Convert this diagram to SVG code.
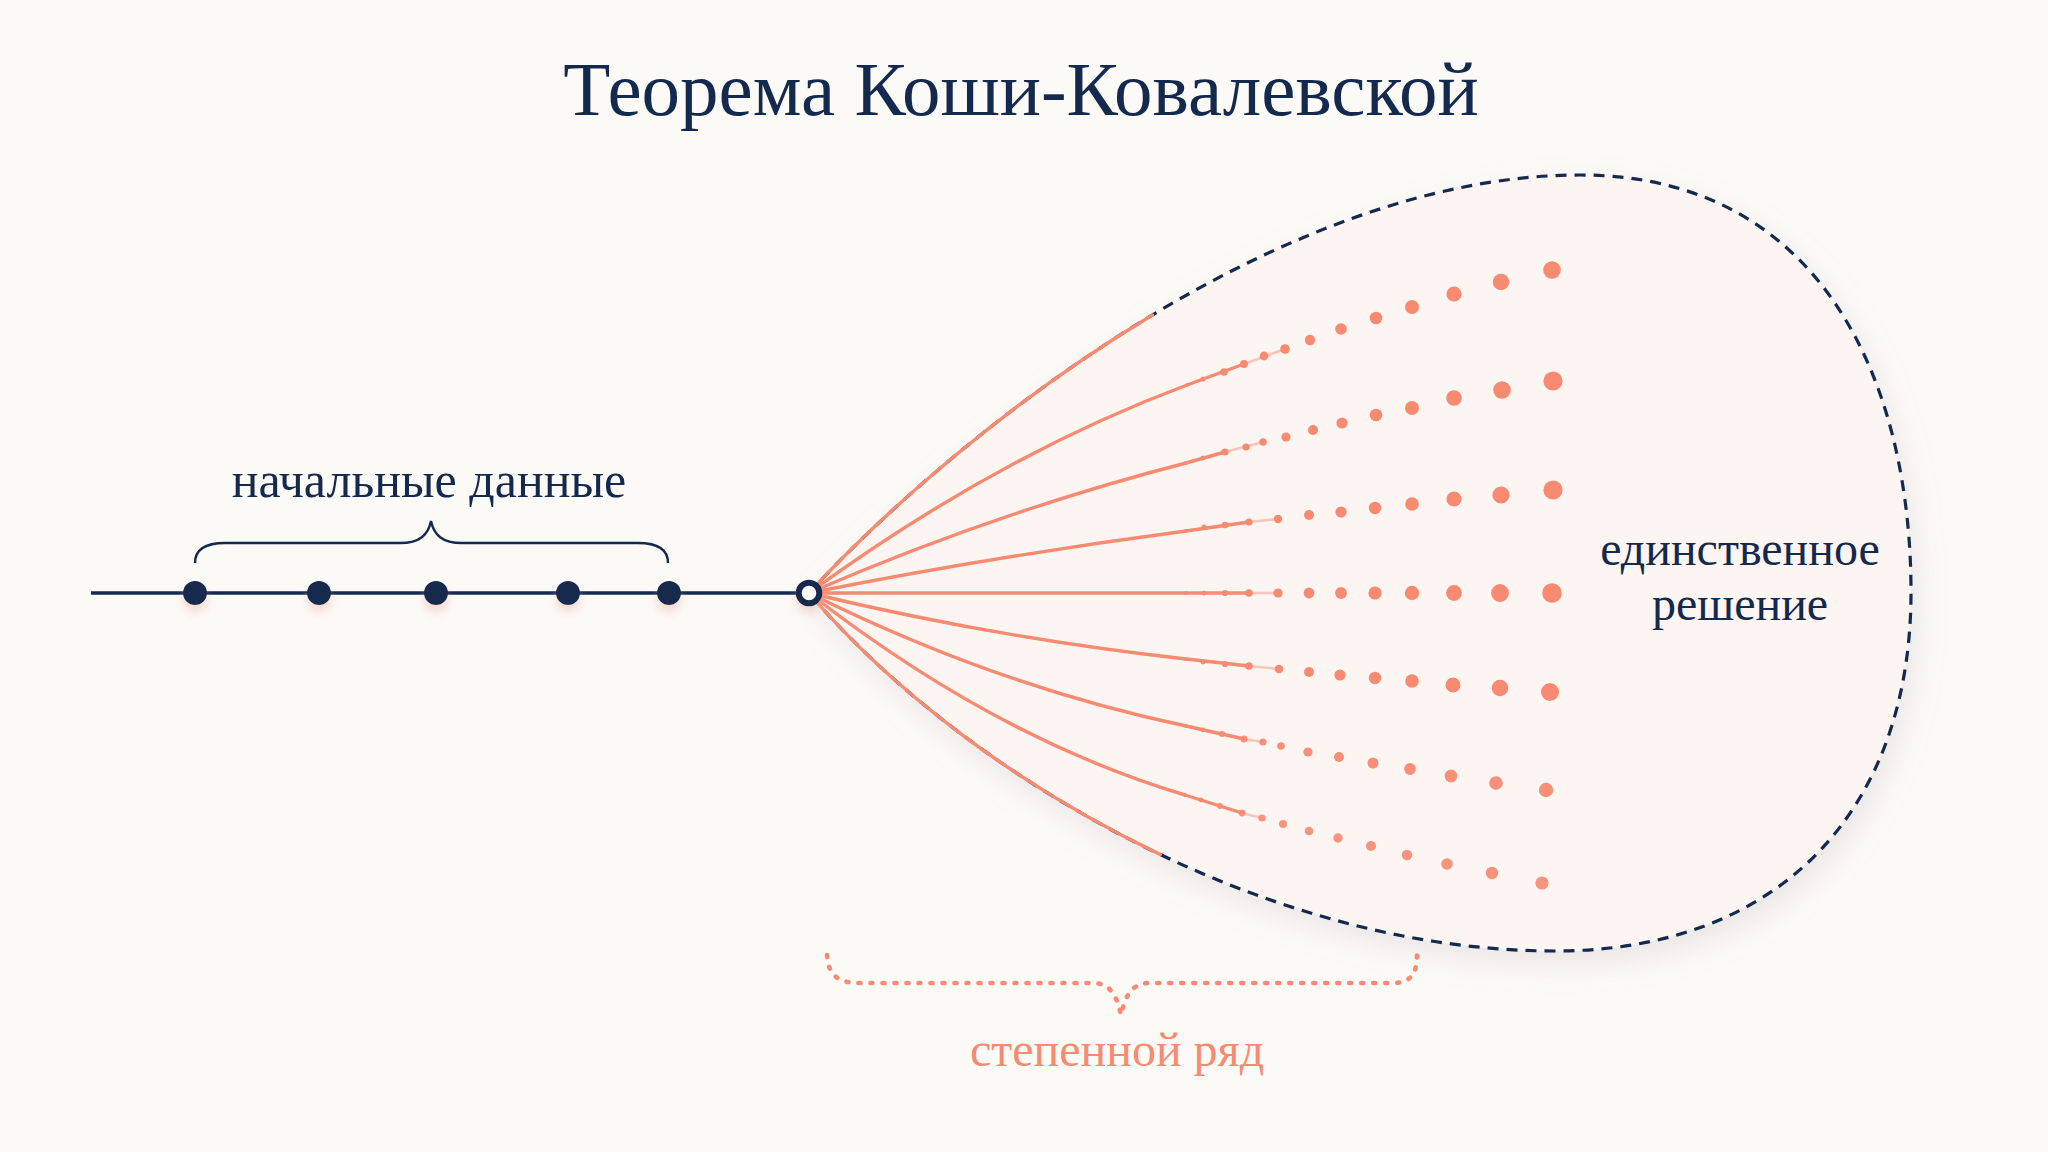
<svg xmlns="http://www.w3.org/2000/svg" width="2048" height="1152" viewBox="0 0 2048 1152">
<defs>
<style>
.navy{fill:#13294e}
.lbl{font-family:"Liberation Serif","DejaVu Serif",serif;text-anchor:middle}
.ray{fill:none;stroke:#f88a72;stroke-width:3.4;stroke-linecap:round}
.rayf{fill:none;stroke:#f88a72;stroke-width:2.6;opacity:0.45}
.dot{fill:#f88a72}
.nd{fill:#13294e}
</style>
<filter id="glow" x="-100%" y="-100%" width="300%" height="300%">
<feDropShadow dx="0" dy="7" stdDeviation="5" flood-color="#e9b4aa" flood-opacity="0.45"/>
</filter>
<filter id="tshadow" x="-20%" y="-20%" width="140%" height="150%">
<feDropShadow dx="6" dy="12" stdDeviation="14" flood-color="#bdb6bc" flood-opacity="0.3"/>
</filter>
</defs>
<rect width="2048" height="1152" fill="#fcfaf7"/>

<g id="title">
<text class="lbl navy" x="1021" y="115" font-size="77">Теорема Коши-Ковалевской</text>
</g>

<g id="solution-region">
<path d="M809,593 C940,450 1270,175 1580,175 C1820,175 1911,380 1911,592 C1911,810 1780,951 1555,951 C1250,951 950,760 809,593 Z" fill="#fdf5f2" filter="url(#tshadow)"/>
<path d="M809,593 C940,450 1270,175 1580,175 C1820,175 1911,380 1911,592 C1911,810 1780,951 1555,951 C1250,951 950,760 809,593 Z" fill="none" stroke="#13294e" stroke-width="3.2" stroke-dasharray="11 8"/>
<text class="lbl navy" x="1740" y="565" font-size="48">единственное</text>
<text class="lbl navy" x="1740" y="620" font-size="48">решение</text>
</g>

<g id="connectors">
<path class="ray" d="M809,593 C878.4,517.2 1003.8,404.3 1152.4,315"/>
<path class="ray" d="M809,593 C886.6,684.9 1012.2,784 1160.3,854.5"/>
<path class="ray" d="M809,593 Q997,456 1187,385"/>
<path class="ray" d="M809,593 Q996,512 1186,463"/>
<path class="ray" d="M809,593 Q996,556 1186,531"/>
<path class="ray" d="M809,593 L1186,593"/>
<path class="ray" d="M809,593 Q996,638 1186,659"/>
<path class="ray" d="M809,593 Q996,686 1186,726"/>
<path class="ray" d="M809,593 Q995,738 1185,795"/>
<path class="ray" d="M1187,385 L1244,364"/>
<path class="ray" d="M1186,463 L1225,452"/>
<path class="ray" d="M1186,531 L1249,522"/>
<path class="ray" d="M1186,593 L1249,593"/>
<path class="ray" d="M1186,659 L1249,666"/>
<path class="ray" d="M1186,726 L1244,739"/>
<path class="ray" d="M1185,795 L1242,813"/>
<path class="rayf" d="M1244,364 L1285,349"/>
<path class="rayf" d="M1225,452 L1263,442"/>
<path class="rayf" d="M1249,522 L1278,519"/>
<path class="rayf" d="M1249,593 L1278,593"/>
<path class="rayf" d="M1249,666 L1279,669"/>
<path class="rayf" d="M1244,739 L1263,742"/>
<path class="rayf" d="M1242,813 L1262,818"/>
</g>

<g id="series-row-1">
<circle class="dot" cx="1187" cy="385" r="1.6"/>
<circle class="dot" cx="1203" cy="379" r="2.6"/>
<circle class="dot" cx="1224" cy="372" r="3.8"/>
<circle class="dot" cx="1244" cy="364" r="4"/>
<circle class="dot" cx="1264" cy="356" r="4.4"/>
<circle class="dot" cx="1285" cy="349" r="4.8"/>
<circle class="dot" cx="1310" cy="340" r="5.2"/>
<circle class="dot" cx="1341" cy="329" r="5.8"/>
<circle class="dot" cx="1376" cy="318" r="6.3"/>
<circle class="dot" cx="1412" cy="307" r="7"/>
<circle class="dot" cx="1454" cy="294" r="7.6"/>
<circle class="dot" cx="1501" cy="282" r="8.3"/>
<circle class="dot" cx="1552" cy="270" r="8.8"/>
</g>
<g id="series-row-2">
<circle class="dot" cx="1186" cy="463" r="1.8"/>
<circle class="dot" cx="1203" cy="458" r="2.4"/>
<circle class="dot" cx="1225" cy="452" r="3.6"/>
<circle class="dot" cx="1246" cy="447" r="3.6"/>
<circle class="dot" cx="1263" cy="442" r="3.8"/>
<circle class="dot" cx="1286" cy="437" r="4.6"/>
<circle class="dot" cx="1313" cy="430" r="5"/>
<circle class="dot" cx="1342" cy="423" r="5.6"/>
<circle class="dot" cx="1376" cy="415" r="6.3"/>
<circle class="dot" cx="1412" cy="408" r="7"/>
<circle class="dot" cx="1454" cy="398" r="7.8"/>
<circle class="dot" cx="1502" cy="390" r="8.8"/>
<circle class="dot" cx="1553" cy="381" r="9.6"/>
</g>
<g id="series-row-3">
<circle class="dot" cx="1186" cy="531" r="1.8"/>
<circle class="dot" cx="1204" cy="527" r="2.6"/>
<circle class="dot" cx="1225" cy="525" r="3.2"/>
<circle class="dot" cx="1249" cy="522" r="3.6"/>
<circle class="dot" cx="1278" cy="519" r="4.2"/>
<circle class="dot" cx="1309" cy="515" r="5"/>
<circle class="dot" cx="1341" cy="512" r="5.6"/>
<circle class="dot" cx="1375" cy="508" r="6.2"/>
<circle class="dot" cx="1412" cy="504" r="6.8"/>
<circle class="dot" cx="1454" cy="499" r="7.6"/>
<circle class="dot" cx="1501" cy="495" r="8.6"/>
<circle class="dot" cx="1553" cy="490" r="9.6"/>
</g>
<g id="series-row-4">
<circle class="dot" cx="1186" cy="593" r="1.8"/>
<circle class="dot" cx="1204" cy="593" r="2.4"/>
<circle class="dot" cx="1225" cy="593" r="3.1"/>
<circle class="dot" cx="1249" cy="593" r="3.8"/>
<circle class="dot" cx="1278" cy="593" r="4.6"/>
<circle class="dot" cx="1309" cy="593" r="5.4"/>
<circle class="dot" cx="1341" cy="593" r="5.9"/>
<circle class="dot" cx="1375" cy="593" r="6.6"/>
<circle class="dot" cx="1412" cy="593" r="7.2"/>
<circle class="dot" cx="1454" cy="593" r="7.9"/>
<circle class="dot" cx="1500" cy="593" r="8.9"/>
<circle class="dot" cx="1552" cy="593" r="9.8"/>
</g>
<g id="series-row-5">
<circle class="dot" cx="1186" cy="659" r="1.8"/>
<circle class="dot" cx="1203" cy="662" r="2.4"/>
<circle class="dot" cx="1225" cy="664" r="3.1"/>
<circle class="dot" cx="1249" cy="666" r="3.8"/>
<circle class="dot" cx="1279" cy="669" r="4.3"/>
<circle class="dot" cx="1309" cy="672" r="5"/>
<circle class="dot" cx="1340" cy="675" r="5.6"/>
<circle class="dot" cx="1375" cy="678" r="6.2"/>
<circle class="dot" cx="1412" cy="681" r="6.8"/>
<circle class="dot" cx="1453" cy="685" r="7.5"/>
<circle class="dot" cx="1500" cy="688" r="8.3"/>
<circle class="dot" cx="1550" cy="692" r="9"/>
</g>
<g id="series-row-6" opacity="0.95">
<circle class="dot" cx="1186" cy="726" r="1.8"/>
<circle class="dot" cx="1203" cy="730" r="2.4"/>
<circle class="dot" cx="1222" cy="734" r="3"/>
<circle class="dot" cx="1244" cy="739" r="3.5"/>
<circle class="dot" cx="1263" cy="742" r="3.6"/>
<circle class="dot" cx="1281" cy="746" r="3.8"/>
<circle class="dot" cx="1308" cy="752" r="4.6"/>
<circle class="dot" cx="1339" cy="757" r="5"/>
<circle class="dot" cx="1373" cy="763" r="5.5"/>
<circle class="dot" cx="1410" cy="769" r="5.9"/>
<circle class="dot" cx="1451" cy="776" r="6.4"/>
<circle class="dot" cx="1496" cy="783" r="6.8"/>
<circle class="dot" cx="1546" cy="790" r="7.2"/>
</g>
<g id="series-row-7" opacity="0.9">
<circle class="dot" cx="1185" cy="795" r="1.8"/>
<circle class="dot" cx="1201" cy="800" r="2.4"/>
<circle class="dot" cx="1220" cy="806" r="3"/>
<circle class="dot" cx="1242" cy="813" r="3.4"/>
<circle class="dot" cx="1262" cy="818" r="3.6"/>
<circle class="dot" cx="1283" cy="824" r="4"/>
<circle class="dot" cx="1309" cy="831" r="4.3"/>
<circle class="dot" cx="1338" cy="838" r="4.7"/>
<circle class="dot" cx="1371" cy="846" r="5"/>
<circle class="dot" cx="1407" cy="855" r="5.3"/>
<circle class="dot" cx="1447" cy="864" r="5.8"/>
<circle class="dot" cx="1492" cy="873" r="6.2"/>
<circle class="dot" cx="1542" cy="883" r="6.6"/>
</g>

<g id="initial-data">
<line x1="91" y1="593" x2="800" y2="593" stroke="#13294e" stroke-width="3.5"/>
<g filter="url(#glow)">
<circle class="nd" cx="195" cy="593" r="12"/>
<circle class="nd" cx="319" cy="593" r="12"/>
<circle class="nd" cx="436" cy="593" r="12"/>
<circle class="nd" cx="568" cy="593" r="12"/>
<circle class="nd" cx="669" cy="593" r="12"/>
</g>
<path d="M195,563 C195,550 205,543 225,543 L400,543 C420,543 428,535 431,521 C434,535 442,543 462,543 L638,543 C658,543 668,550 668,563" fill="none" stroke="#13294e" stroke-width="2.4"/>
<text class="lbl navy" x="429" y="497" font-size="50">начальные данные</text>
</g>

<g id="origin-point">
<circle cx="809" cy="593" r="10.3" fill="#ffffff" stroke="#13294e" stroke-width="6" filter="url(#glow)"/>
</g>

<g id="power-series-label">
<path d="M827,955 C828,975 838,983 860,983 L1092,983 C1108,983 1116,992 1121,1015 C1126,992 1134,983 1150,983 L1392,983 C1410,983 1417,975 1417,955" fill="none" stroke="#f88a72" stroke-width="4.6" stroke-linecap="round" stroke-dasharray="2 10"/>
<text class="lbl" x="1117" y="1066" font-size="48" fill="#f88a72">степенной ряд</text>
</g>
</svg>
